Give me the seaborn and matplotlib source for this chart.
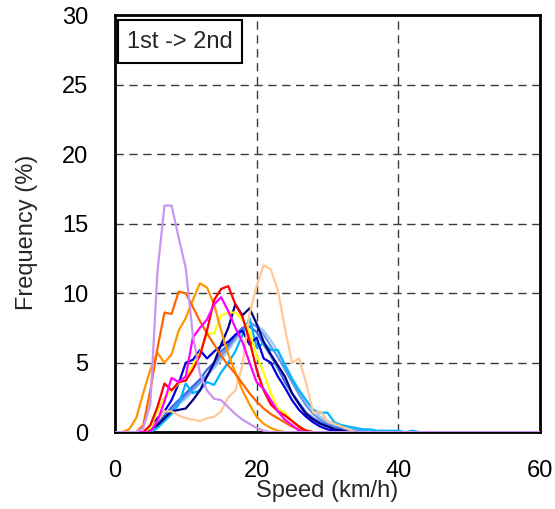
import matplotlib
matplotlib.use("Agg")
import matplotlib.pyplot as plt
from matplotlib.patches import Rectangle
import seaborn as sns
import pandas as pd

# Speed bins (km/h) and frequency (%) per vehicle run, 1 km/h steps starting at 0.
speed = list(range(0, 61))

light_blue = [0, 0, 0, 0, 0, 0.1, 0.4, 0.9, 1.5, 2.0, 2.4, 2.9, 3.5, 4.0, 4.6, 5.2, 5.9, 6.6, 7.2, 7.6,
              7.7, 7.3, 6.6, 5.8, 4.9, 3.9, 3.0, 2.2, 1.6, 1.1, 0.8, 0.6, 0.4, 0.3, 0.2, 0.1, 0.1]
cornflower = [0, 0, 0, 0, 0, 0.1, 0.5, 1.0, 1.6, 2.1, 2.6, 3.1, 3.6, 4.1, 4.8, 5.5, 6.1, 6.8, 7.4, 7.9,
              7.6, 7.0, 6.2, 5.4, 4.5, 3.6, 2.7, 1.9, 1.3, 0.9, 0.6, 0.4, 0.3, 0.2, 0.1, 0.1]
royal_blue = [0, 0, 0, 0, 0, 0.2, 0.6, 1.2, 1.8, 2.3, 2.8, 3.3, 3.8, 4.5, 5.0, 5.8, 6.3, 7.0, 7.5, 7.6,
              7.2, 6.3, 5.5, 4.6, 3.6, 2.8, 2.1, 1.4, 1.0, 0.7, 0.5, 0.3, 0.2, 0.1]
deep_sky = [0, 0, 0, 0, 0, 0, 0.3, 0.8, 1.3, 2.0, 3.5, 2.8, 3.0, 3.6, 3.4, 4.3, 5.0, 5.8, 7.0, 8.2,
            6.1, 6.4, 5.9, 5.9, 4.8, 3.8, 3.0, 2.3, 1.6, 1.4, 1.4, 0.7, 0.5, 0.4, 0.3, 0.2, 0.2, 0.1,
            0.1, 0.1, 0.1, 0, 0.1]
medium_blue = [0, 0, 0, 0, 0, 0.3, 1.0, 1.5, 2.3, 3.5, 5.0, 5.2, 5.9, 5.3, 5.8, 6.2, 6.5, 7.0, 7.3, 6.3,
               6.8, 5.3, 5.0, 4.0, 3.2, 2.3, 1.6, 1.1, 0.7, 0.4, 0.2, 0.1]
navy = [0, 0, 0, 0, 0, 0.2, 0.5, 1.0, 1.5, 1.6, 1.7, 2.3, 3.0, 4.0, 5.0, 6.3, 7.5, 9.2, 8.4, 8.9,
        7.8, 6.5, 5.6, 4.8, 4.0, 2.8, 2.0, 1.3, 0.9, 0.6, 0.4, 0.2, 0.1]
peach = [0, 0, 0, 0, 0.1, 0.3, 0.8, 1.5, 1.5, 1.2, 1.0, 0.9, 0.8, 1.0, 1.1, 1.5, 2.5, 3.0, 4.8, 8.5,
         10.5, 12.0, 11.7, 10.2, 7.5, 5.0, 5.3, 3.5, 1.4, 1.5, 0.8, 0.6, 0.4, 0.2]
yellow = [0, 0, 0, 0, 0, 0.3, 1.5, 2.5, 3.0, 3.5, 4.0, 4.8, 5.7, 7.1, 7.1, 8.4, 8.6, 8.6, 8.1, 7.2,
          5.5, 4.3, 2.8, 1.7, 1.4, 0.8, 0.4, 0.1]
red = [0, 0, 0, 0, 0, 0.5, 1.8, 3.5, 3.0, 3.6, 3.7, 4.5, 5.5, 7.3, 9.5, 10.3, 10.5, 9.2, 8.3, 6.6,
       4.5, 3.0, 2.0, 1.5, 1.2, 0.8, 0.4, 0.1]
magenta = [0, 0, 0, 0, 0, 0, 0.8, 2.2, 3.9, 3.6, 4.0, 6.8, 7.5, 8.1, 9.2, 9.7, 8.7, 7.5, 6.5, 5.0,
           3.6, 3.1, 2.3, 1.5, 0.9, 0.5, 0.1]
orange = [0, 0, 0.2, 1.0, 2.8, 4.5, 5.7, 5.0, 5.6, 7.3, 8.2, 9.5, 10.7, 10.4, 9.2, 7.3, 5.6, 4.3, 3.0, 2.0,
          1.1, 0.6, 0.3, 0.1]
orange_red = [0, 0, 0, 0, 0.5, 3.0, 6.0, 8.6, 8.5, 10.1, 10.0, 9.0, 8.0, 7.1, 6.3, 5.5, 4.8, 4.2, 3.5, 2.8,
              2.2, 1.7, 1.3, 1.0, 0.7, 0.4, 0.2, 0.1]
lavender = [0, 0, 0, 0, 0.3, 2.0, 11.5, 16.3, 16.3, 14.0, 11.8, 7.0, 4.2, 3.0, 2.4, 2.3, 1.8, 1.3, 0.9, 0.6,
            0.3, 0.1]

series = {
    "r01": (light_blue, "#a0c8f0"),
    "r02": (cornflower, "#6495ed"),
    "r03": (royal_blue, "#4169e1"),
    "r04": (deep_sky, "#00b4ff"),
    "r05": (medium_blue, "#0000e0"),
    "r06": (navy, "#000080"),
    "r07": (peach, "#ffc896"),
    "r08": (yellow, "#ffff00"),
    "r09": (orange, "#ff9600"),
    "r10": (orange_red, "#ff6400"),
    "r11": (red, "#ff0000"),
    "r12": (magenta, "#ff00ff"),
    "r13": (lavender, "#c896f0"),
}

rows = []
for name, (vals, _) in series.items():
    full = list(vals) + [0.0] * (len(speed) - len(vals))
    for s, f in zip(speed, full):
        rows.append({"speed": s, "freq": f, "run": name})
df = pd.DataFrame(rows)
palette = {name: col for name, (_, col) in series.items()}

sns.set_theme(style="white")
plt.rcParams["font.family"] = ["Liberation Sans", "DejaVu Sans"]

fig = plt.figure(figsize=(5.55, 5.09), dpi=100)
ax = fig.add_axes([0.207, 0.151, 0.766, 0.8195])

sns.lineplot(data=df, x="speed", y="freq", hue="run", palette=palette,
             estimator=None, sort=False, linewidth=1.6, legend=False, ax=ax, zorder=3)

ax.set_xlim(0, 60)
ax.set_ylim(0, 30)
ax.set_xticks([0, 20, 40, 60])
ax.set_yticks([0, 5, 10, 15, 20, 25, 30])
ax.tick_params(axis="both", length=0, labelsize=17, colors="black")
ax.tick_params(axis="x", pad=20)
ax.tick_params(axis="y", pad=19)

for y in [5, 10, 15, 20, 25]:
    ax.axhline(y, color="#3a3a3a", lw=1.0, dashes=(6, 4), zorder=1)
for x in [20, 40]:
    ax.axvline(x, color="#3a3a3a", lw=1.0, dashes=(6, 4), zorder=1)

for sp in ax.spines.values():
    sp.set_visible(True)
    sp.set_color("black")
    sp.set_linewidth(2.0)

ax.set_xlabel("Speed (km/h)", fontsize=17)
ax.set_ylabel("Frequency (%)", fontsize=17)
ax.xaxis.label.set_verticalalignment("center")
ax.xaxis.set_label_coords(0.5, -0.1415)
ax.yaxis.label.set_verticalalignment("center")
ax.yaxis.set_label_coords(-0.207, 0.48)

ax.add_patch(Rectangle((0.008, 0.886), 0.29, 0.102, transform=ax.transAxes,
                       facecolor="white", edgecolor="black", lw=1.5, zorder=5))
ax.text(0.153, 0.936, "1st -> 2nd", transform=ax.transAxes, ha="center", va="center",
        fontsize=17, zorder=6)

fig.savefig("out.png", dpi=100)
